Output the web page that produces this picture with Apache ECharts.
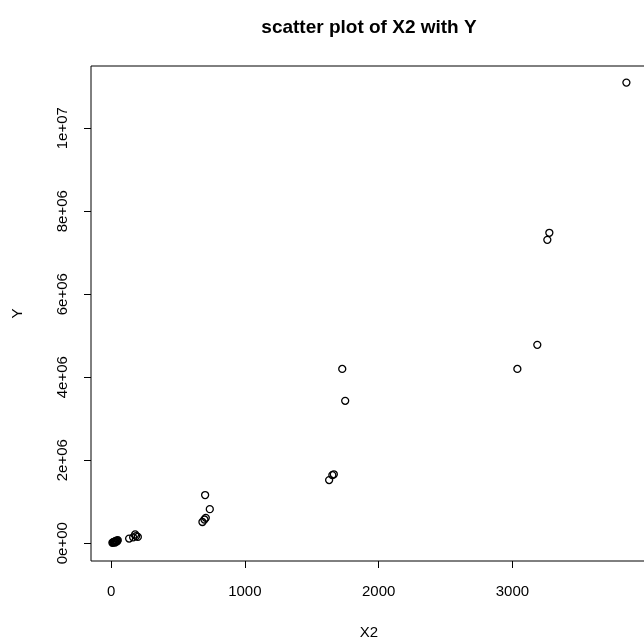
<!DOCTYPE html>
<html>
<head>
<meta charset="utf-8">
<script src="https://cdn.jsdelivr.net/npm/echarts@6/dist/echarts.min.js"></script>
<style>html,body{margin:0;padding:0;background:#fff;}#c{width:644px;height:642px;}</style>
</head>
<body>
<div id="c"></div>
<script>
var xValues = [10, 15, 20, 25, 30, 35, 40, 45, 50, 30, 135, 165, 180, 187, 200, 683, 698, 703, 708, 738, 1630, 1654, 1665, 1728, 1750, 3037, 3186, 3261, 3276, 3852];
var yValues = [10000, 20000, 30000, 25000, 40000, 50000, 60000, 45000, 70000, 15000, 110000, 140000, 210000, 170000, 150000, 510000, 570000, 1160000, 610000, 820000, 1520000, 1640000, 1660000, 4200000, 3430000, 4200000, 4780000, 7310000, 7480000, 11100000];
var xTicks = [0, 1000, 2000, 3000];
var xTickLabels = ['0', '1000', '2000', '3000'];
var yTicks = [0, 2000000, 4000000, 6000000, 8000000, 10000000];
var yTickLabels = ['0e+00', '2e+06', '4e+06', '6e+06', '8e+06', '1e+07'];

var points = xValues.map(function (x, i) { return [x, yValues[i]]; });
var font = '"Liberation Sans", Arial, sans-serif';

var chart = echarts.init(document.getElementById('c'), null, {renderer: 'canvas'});
chart.setOption({
  animation: false,
  backgroundColor: '#fff',
  title: {
    text: 'scatter plot of X2 with Y',
    left: 364, top: 13, textAlign: 'center',
    textStyle: {fontFamily: font, fontSize: 19, fontWeight: 'bold', color: '#000'}
  },
  grid: {left: 91, top: 66, width: 556, height: 495, containLabel: false, outerBoundsMode: 'none', show: true, borderColor: '#000', borderWidth: 1, backgroundColor: 'transparent'},
  xAxis: {
    type: 'value', min: -150, max: 4006,
    name: 'X2', nameLocation: 'middle', nameGap: 64,
    nameTextStyle: {fontFamily: font, fontSize: 15, color: '#000'},
    splitLine: {show: false},
    axisLine: {show: false, onZero: false},
    axisTick: {show: true, inside: false, length: 7, customValues: xTicks, lineStyle: {color: '#000'}},
    axisLabel: {
      customValues: xTicks, margin: 23, fontFamily: font, fontSize: 15, color: '#000',
      formatter: function (v) { var i = xTicks.indexOf(v); return i >= 0 ? xTickLabels[i] : ''; }
    }
  },
  yAxis: {
    type: 'value', min: -430000, max: 11500000,
    name: 'Y', nameLocation: 'middle', nameGap: 66, nameRotate: 90,
    nameTextStyle: {fontFamily: font, fontSize: 15, color: '#000'},
    splitLine: {show: false},
    axisLine: {show: false, onZero: false},
    axisTick: {show: true, inside: false, length: 7, customValues: yTicks, lineStyle: {color: '#000'}},
    axisLabel: {
      customValues: yTicks, rotate: 90, margin: 21, fontFamily: font, fontSize: 15, color: '#000',
      formatter: function (v) { var i = yTicks.indexOf(v); return i >= 0 ? yTickLabels[i] : ''; }
    }
  },
  series: [{
    type: 'scatter',
    data: points,
    symbol: 'circle',
    symbolSize: 7,
    itemStyle: {color: 'rgba(255,255,255,0)', borderColor: '#000', borderWidth: 1.3, opacity: 1},
    emphasis: {disabled: true}
  }]
});
</script>
</body>
</html>
